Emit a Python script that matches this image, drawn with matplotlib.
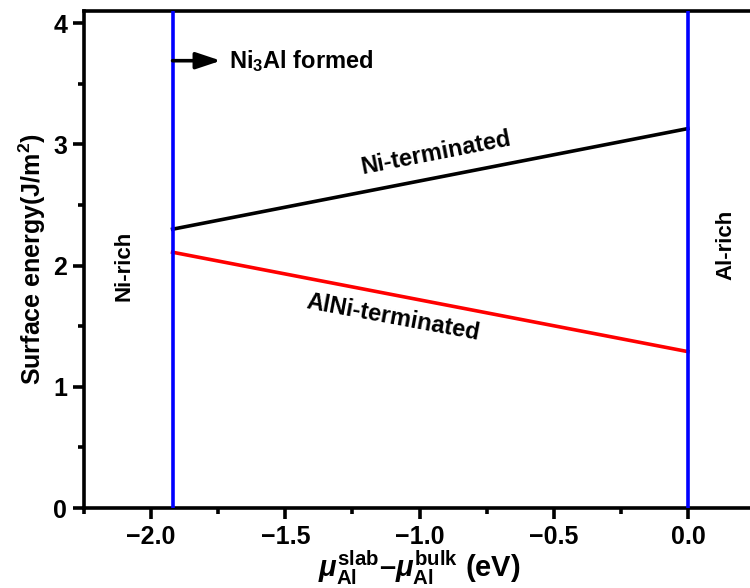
import matplotlib
matplotlib.use("Agg")
import matplotlib.pyplot as plt
from matplotlib.ticker import MultipleLocator, FuncFormatter

plt.rcParams['font.family'] = ['Liberation Sans', 'DejaVu Sans']
plt.rcParams['font.weight'] = 'bold'
plt.rcParams['mathtext.fontset'] = 'custom'
plt.rcParams['mathtext.rm'] = 'Liberation Sans:bold'
plt.rcParams['mathtext.it'] = 'Liberation Sans:bold:italic'
plt.rcParams['mathtext.bf'] = 'Liberation Sans:bold'
plt.rcParams['axes.unicode_minus'] = True

# data
mu_range = [-1.92, 0.0]
ni_term = [2.30, 3.13]
alni_term = [2.11, 1.29]
boundaries = [-1.92, 0.0]

fig = plt.figure(figsize=(7.5, 5.88), dpi=100)
ax = fig.add_axes([84/750, 80/588, 671/750, 497/588])

for b in boundaries:
    ax.axvline(b, color='#0000ff', lw=2.6, zorder=3)
ax.plot(mu_range, ni_term, color='black', lw=2.6, zorder=2)
ax.plot(mu_range, alni_term, color='#ff0000', lw=2.6, zorder=2)

ax.set_xlim(-2.25, 0.25)
ax.set_ylim(0, 4.1)
ax.xaxis.set_major_locator(MultipleLocator(0.5))
ax.xaxis.set_minor_locator(MultipleLocator(0.25))
ax.yaxis.set_major_locator(MultipleLocator(1))
ax.yaxis.set_minor_locator(MultipleLocator(0.5))
ax.xaxis.set_major_formatter(FuncFormatter(lambda v, p: f"{v:.1f}".replace('-', '\u2212') if abs(v) > 1e-9 else "0.0"))

for s in ['left', 'bottom', 'top']:
    ax.spines[s].set_linewidth(2.6)
ax.spines['right'].set_visible(False)
ax.tick_params(which='major', direction='out', length=8, width=2.6, labelsize=18, pad=4)
ax.tick_params(which='minor', direction='out', length=4, width=2.6)
ax.tick_params(top=False, right=False)
for lab in ax.get_xticklabels() + ax.get_yticklabels():
    lab.set_fontweight('bold')

ax.set_ylabel('Surface energy(J/m$^2$)', fontsize=18, fontweight='bold', labelpad=4)
ax.set_xlabel(r'$\mu_{\mathrm{Al}}^{\mathrm{slab}}$–$\mu_{\mathrm{Al}}^{\mathrm{bulk}}$ (eV)', fontsize=21, fontweight='bold', labelpad=0)

ax.annotate('', xy=(-1.74, 3.69), xytext=(-1.92, 3.69),
            arrowprops=dict(arrowstyle='-|>,head_length=1.5,head_width=0.5', color='black', lw=2.6,
                            shrinkA=0, shrinkB=0))
ax.text(-1.71, 3.69, 'Ni$_3$Al formed', fontsize=17, fontweight='bold', va='center', ha='left')

ax.text(-2.1, 2.0, 'Ni-rich', rotation=90, fontsize=16, fontweight='bold', ha='center', va='center')
ax.text(0.14, 2.17, 'Al-rich', rotation=90, fontsize=16, fontweight='bold', ha='center', va='center')
ax.text(-0.94, 2.93, 'Ni-terminated', rotation=11, fontsize=17, fontweight='bold', ha='center', va='center')
ax.text(-1.10, 1.57, 'AlNi-terminated', rotation=-10.5, fontsize=17, fontweight='bold', ha='center', va='center')

fig.savefig('out.png', dpi=100)
